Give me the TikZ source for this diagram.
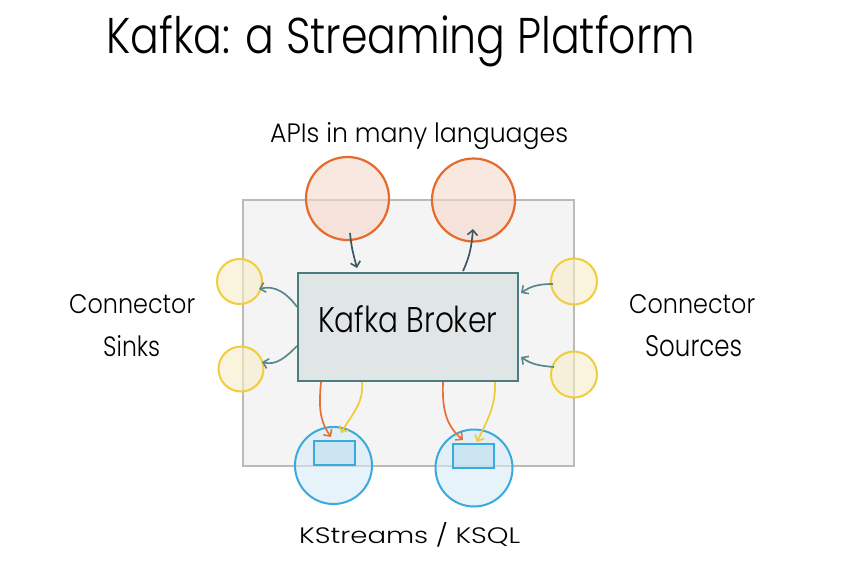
\documentclass[tikz,border=0pt]{standalone}
\usepackage{fontspec}
\setmainfont{Poppins}[UprightFont=* Light]
\usetikzlibrary{arrows.meta}
\definecolor{platfill}{HTML}{F4F4F4}
\definecolor{platdraw}{HTML}{BDB9B3}
\definecolor{orgdraw}{HTML}{E66A2C}
\definecolor{orgfill}{HTML}{F6D9CB}
\definecolor{yeldraw}{HTML}{F2CC3C}
\definecolor{yelfill}{HTML}{F8EDC8}
\definecolor{bludraw}{HTML}{3AA9DC}
\definecolor{blufill}{HTML}{D6ECF8}
\definecolor{innfill}{HTML}{C3E2F2}
\definecolor{brkfill}{HTML}{E0E6E6}
\definecolor{brkdraw}{HTML}{4D7C80}
\definecolor{arrdark}{HTML}{3A5A62}
\definecolor{arrside}{HTML}{5A878B}
\definecolor{arrorg}{HTML}{E4703A}
\definecolor{arryel}{HTML}{F1C93A}
\newcommand{\fitbox}[3]{\resizebox{#1pt}{#2pt}{#3}}
\tikzset{
  lbl/.style={inner sep=0pt, anchor=base west, text=black},
  orgc/.style={circle, draw=orgdraw, line width=2.2pt, fill=orgfill, fill opacity=0.6, draw opacity=1, minimum size=#1pt, inner sep=0pt},
  yelc/.style={circle, draw=yeldraw, line width=2pt, fill=yelfill, fill opacity=0.6, minimum size=#1pt, inner sep=0pt},
  bluc/.style={circle, draw=bludraw, line width=2pt, fill=blufill, fill opacity=0.6, minimum size=#1pt, inner sep=0pt},
  innr/.style={draw=bludraw, line width=1.6pt, fill=innfill, fill opacity=0.7, inner sep=0pt},
  conn/.style={line width=1.7pt, -{Straight Barb[length=5pt,width=10pt,line width=1.6pt]}},
}
\begin{document}
\begin{tikzpicture}[x=1pt,y=-1pt]
\useasboundingbox (0,0) rectangle (851,560);
\fill[white] (0,0) rectangle (851,560);
% title
\node[lbl] (title) at (106,53) {\fitbox{589}{38}{Kafka: a Streaming Platform}};
% platform
\node[draw=platdraw, fill=platfill, line width=2pt, minimum width=331pt, minimum height=266pt, inner sep=0pt, anchor=north west] (plat) at (242,199) {};
% broker
\node[draw=brkdraw, fill=brkfill, line width=2pt, minimum width=220pt, minimum height=108pt, inner sep=0pt, anchor=north west] (brk) at (297,272) {};
\node[lbl] (brktxt) at (318,332) {\fitbox{179}{27}{Kafka Broker}};
% orange circles
\node[orgc=83] (o1) at (347.5,198.5) {};
\node[orgc=83] (o2) at (473.5,200) {};
% yellow circles
\node[yelc=45] (y1) at (239.5,281.5) {};
\node[yelc=45] (y2) at (241,369) {};
\node[yelc=46] (y3) at (574,281.5) {};
\node[yelc=46] (y4) at (574,374.5) {};
% blue circles
\node[bluc=77] (c1) at (333.5,465.5) {};
\node[bluc=77] (c2) at (474,468) {};
\node[innr, minimum width=41pt, minimum height=24pt, anchor=north west] (r1) at (313,440) {};
\node[innr, minimum width=41pt, minimum height=24pt, anchor=north west] (r2) at (452,443) {};
% labels
\node[lbl] (api) at (270,142) {\fitbox{298}{20}{APIs in many languages}};
\node[lbl] (sk1) at (69,313) {\fitbox{126}{19}{Connector}};
\node[lbl] (sk2) at (103,356) {\fitbox{57}{21}{Sinks}};
\node[lbl] (sr1) at (629,313) {\fitbox{126}{19}{Connector}};
\node[lbl] (sr2) at (645,356) {\fitbox{97}{21}{Sources}};
\node[lbl] (ks) at (299,543) {\fitbox{221}{21}{KStreams / KSQL}};
% connector end points
\coordinate (a1s) at (350,233);  \coordinate (a1e) at (357,268);
\coordinate (a2s) at (463,271);  \coordinate (a2e) at (473,229);
\coordinate (a3s) at (297,307);  \coordinate (a3e) at (259,289);
\coordinate (a4s) at (297,346);  \coordinate (a4e) at (262,362);
\coordinate (a5s) at (553,284);  \coordinate (a5e) at (521,293);
\coordinate (a6s) at (554,367);  \coordinate (a6e) at (521,357);
\coordinate (b1s) at (321,382);  \coordinate (b1e) at (331,437);
\coordinate (b2s) at (362,382);  \coordinate (b2e) at (341,433);
\coordinate (b3s) at (443,382);  \coordinate (b3e) at (463,440);
\coordinate (b4s) at (495,382);  \coordinate (b4e) at (477,442);
% connectors
\draw[conn, arrdark] (a1s) to[out=-85, in=105] (a1e);
\draw[conn, arrdark] (a2s) to[out=65, in=-95] (a2e);
\draw[conn, arrside] (a3s) to[out=125, in=15] (a3e);
\draw[conn, arrside] (a4s) to[out=-135, in=-15] (a4e);
\draw[conn, arrside] (a5s) to[out=180, in=35] (a5e);
\draw[conn, arrside] (a6s) to[out=175, in=-35] (a6e);
\draw[conn, arrorg] (b1s) to[out=-95, in=125] (b1e);
\draw[conn, arryel] (b2s) to[out=-85, in=60] (b2e);
\draw[conn, arrorg] (b3s) to[out=-92, in=140] (b3e);
\draw[conn, arryel] (b4s) to[out=-88, in=65] (b4e);
\end{tikzpicture}
\end{document}
